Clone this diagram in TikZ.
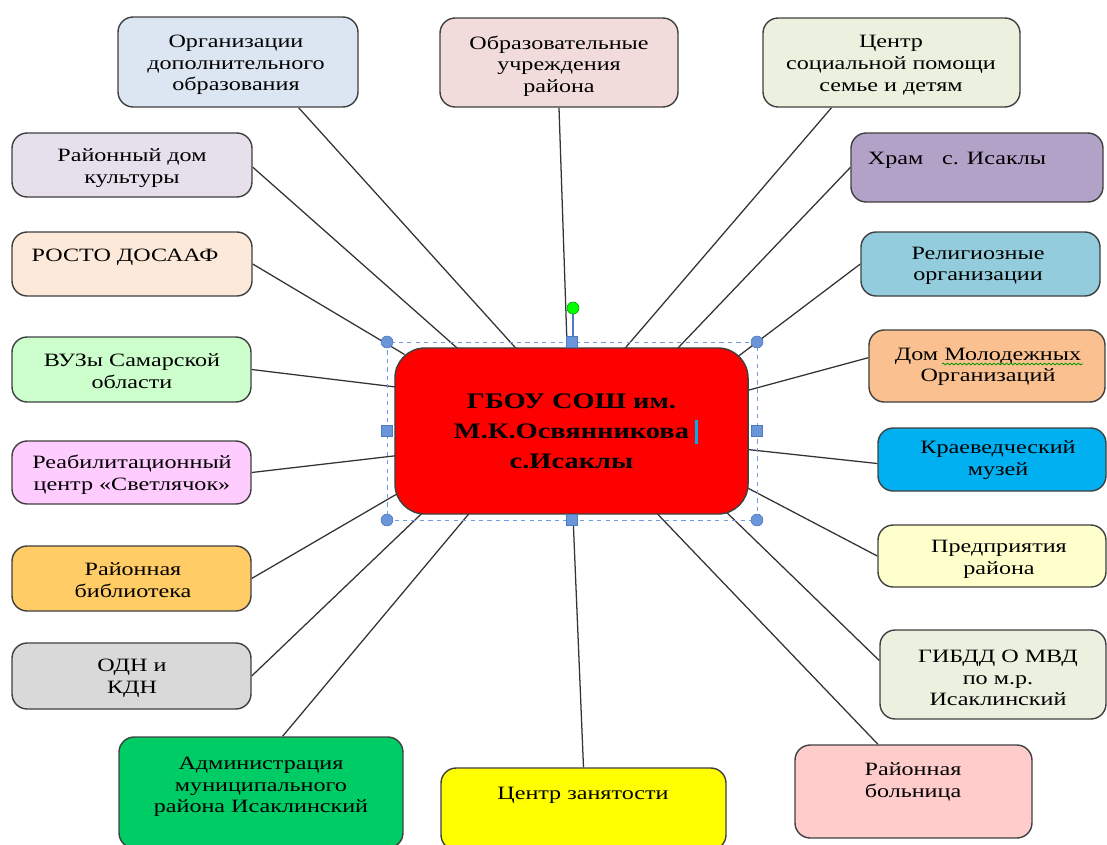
\documentclass[tikz,border=0pt]{standalone}
\usepackage{fontspec}
\setmainfont{Liberation Serif}[FakeStretch=1.28]
\usepackage{tikz}
\usetikzlibrary{positioning, fit, backgrounds, decorations.pathmorphing}
\tikzstyle{diagram} = [x = .025cm, y = -.025cm]
\definecolor{borderColor}{HTML}{404040}
\definecolor{linkColor}{HTML}{333333}
\definecolor{selectColor}{HTML}{6F9BE0}
\definecolor{handleColor}{HTML}{6A95D8}
\definecolor{handleBorder}{HTML}{4F7ABF}
\definecolor{dopObrFill}{HTML}{DCE6F2}
\definecolor{obrUchrFill}{HTML}{F2DCDB}
\definecolor{socCenterFill}{HTML}{EBF1DE}
\definecolor{domKultFill}{HTML}{E6E0EC}
\definecolor{hramFill}{HTML}{B3A2C7}
\definecolor{rostoFill}{HTML}{FDE9D9}
\definecolor{religFill}{HTML}{93CDDD}
\definecolor{vuzFill}{HTML}{CCFFCC}
\definecolor{domMolFill}{HTML}{FAC090}
\definecolor{reabilFill}{HTML}{FFCCFF}
\definecolor{muzeyFill}{HTML}{00B0F0}
\definecolor{biblioFill}{HTML}{FFCC66}
\definecolor{predprFill}{HTML}{FFFFCC}
\definecolor{odnFill}{HTML}{D9D9D9}
\definecolor{gibddFill}{HTML}{EBF1DE}
\definecolor{adminFill}{HTML}{00CC66}
\definecolor{zanyatFill}{HTML}{FFFF00}
\definecolor{bolnicaFill}{HTML}{FFCCCC}
\tikzstyle{orgBox} = [draw=borderColor, rounded corners = .38cm, line width=1pt, inner sep=0pt]
\tikzstyle{orgText} = [align=center, inner sep=0pt, font=\fontsize{13.4}{15.4}\selectfont]
\tikzstyle{schoolBox} = [draw=borderColor, fill=red, rounded corners = .75cm, line width=1pt, align=center, minimum width=8.825cm, minimum height=4.15cm, font=\fontsize{15.8}{21.3}\selectfont\bfseries]
\tikzstyle{linkLine} = [color=linkColor, line width=.9pt, shorten >=-.3cm]
\tikzstyle{selectFrame} = [color=selectColor, dashed, line width=.7pt]
\tikzstyle{cornerHandle} = [circle, fill=handleColor, draw=handleBorder, inner sep=0pt, minimum size=.3cm]
\tikzstyle{sideHandle} = [rectangle, fill=handleColor, draw=handleBorder, inner sep=0pt, minimum size=.28cm]
\newcommand{\orgBox}[9]{\node [orgBox, fill=#6, fit={(#2,#3) (#4,#5)}] (#1) {};
  \node [orgText] (#1Text) at (#7,#8+2) {#9};}

\begin{document}
\begin{tikzpicture}[diagram]
\useasboundingbox (0,0) rectangle (1107,844);
\orgBox{dopObr}{118}{17}{358}{107}{dopObrFill}{236}{63}{Организации\\дополнительного\\образования}
\orgBox{obrUchr}{440}{18}{678}{107}{obrUchrFill}{559}{64}{Образовательные\\учреждения\\района}
\orgBox{socCenter}{763}{18}{1020}{107}{socCenterFill}{891}{63}{Центр\\социальной помощи\\семье и детям}
\orgBox{domKult}{12}{133}{252}{197}{domKultFill}{132}{166}{Районный дом\\культуры}
\orgBox{hram}{851}{133}{1103}{202}{hramFill}{957}{158}{Храм\quad с. Исаклы}
\orgBox{rosto}{12}{232}{252}{296}{rostoFill}{125}{255}{РОСТО ДОСААФ}
\orgBox{relig}{861}{232}{1100}{296}{religFill}{978}{264}{Религиозные\\организации}
\orgBox{vuz}{12}{337}{251}{402}{vuzFill}{132}{369}{ВУЗы Самарской\\области}
\orgBox{domMol}{869}{330}{1105}{402}{domMolFill}{988}{365}{Дом Молодежных\\Организаций}
\orgBox{reabil}{12}{441}{251}{504}{reabilFill}{132}{473}{Реабилитационный\\центр «Светлячок»}
\orgBox{muzey}{878}{428}{1106}{491}{muzeyFill}{998}{458}{Краеведческий\\музей}
\orgBox{biblio}{12}{546}{251}{611}{biblioFill}{133}{578}{Районная\\библиотека}
\orgBox{predpr}{878}{525}{1106}{587}{predprFill}{999}{557}{Предприятия\\района}
\orgBox{odn}{12}{643}{251}{709}{odnFill}{132}{676}{ОДН и\\КДН}
\orgBox{gibdd}{880}{630}{1106}{719}{gibddFill}{998}{676}{ГИБДД О МВД\\по м.р.\\Исаклинский}
\orgBox{admin}{119}{737}{403}{848}{adminFill}{261}{785}{Администрация\\муниципального\\района Исаклинский}
\orgBox{zanyat}{441}{768}{726}{850}{zanyatFill}{583}{793}{Центр занятости}
\orgBox{bolnica}{795}{745}{1032}{838}{bolnicaFill}{913}{780}{Районная\\больница}
\node [schoolBox] (school) at (571.5,431) {ГБОУ СОШ им.\\М.К.Освянникова\\с.Исаклы};
% links to the school
\begin{scope}[on background layer]
  \foreach \from/\fromAnchor/\toAnchor in {dopObr/-37/124, obrUchr/south/93, socCenter/217/57, domKult/-1/144.5, hram/west/38, rosto/east/155, relig/west/25, vuz/east/166.3, domMol/176/13.7, reabil/east/188, muzey/182/354.5, biblio/east/200.2, predpr/west/342, odn/east/209.5, gibdd/173/332, admin/69.4/219.3, zanyat/north/271, bolnica/127.4/316.8}
    \draw [linkLine] (\from.\fromAnchor) -- (school.\toAnchor);
\end{scope}
% selection marks
\draw [selectFrame] (387,342) rectangle (757,520);
\draw [handleBorder, line width=1.2pt] (573,342) -- (573,313);
\node [circle, fill=green, draw=green!60!black, inner sep=0pt, minimum size=.3cm] (rotHandle) at (573,308) {};
\foreach \hx/\hy in {387/342, 757/342, 387/520, 757/520}
  \node [cornerHandle] at (\hx,\hy) {};
\foreach \hx/\hy in {572/342, 572/520, 387/431, 757/431}
  \node [sideHandle] at (\hx,\hy) {};
\fill [cyan] (694.5,420) rectangle (698,444);
\draw [green!60!black, line width=.6pt, decorate, decoration={snake, amplitude=.6pt, segment length=3pt}] (942,364) -- (1083,364);
\end{tikzpicture}
\end{document}
